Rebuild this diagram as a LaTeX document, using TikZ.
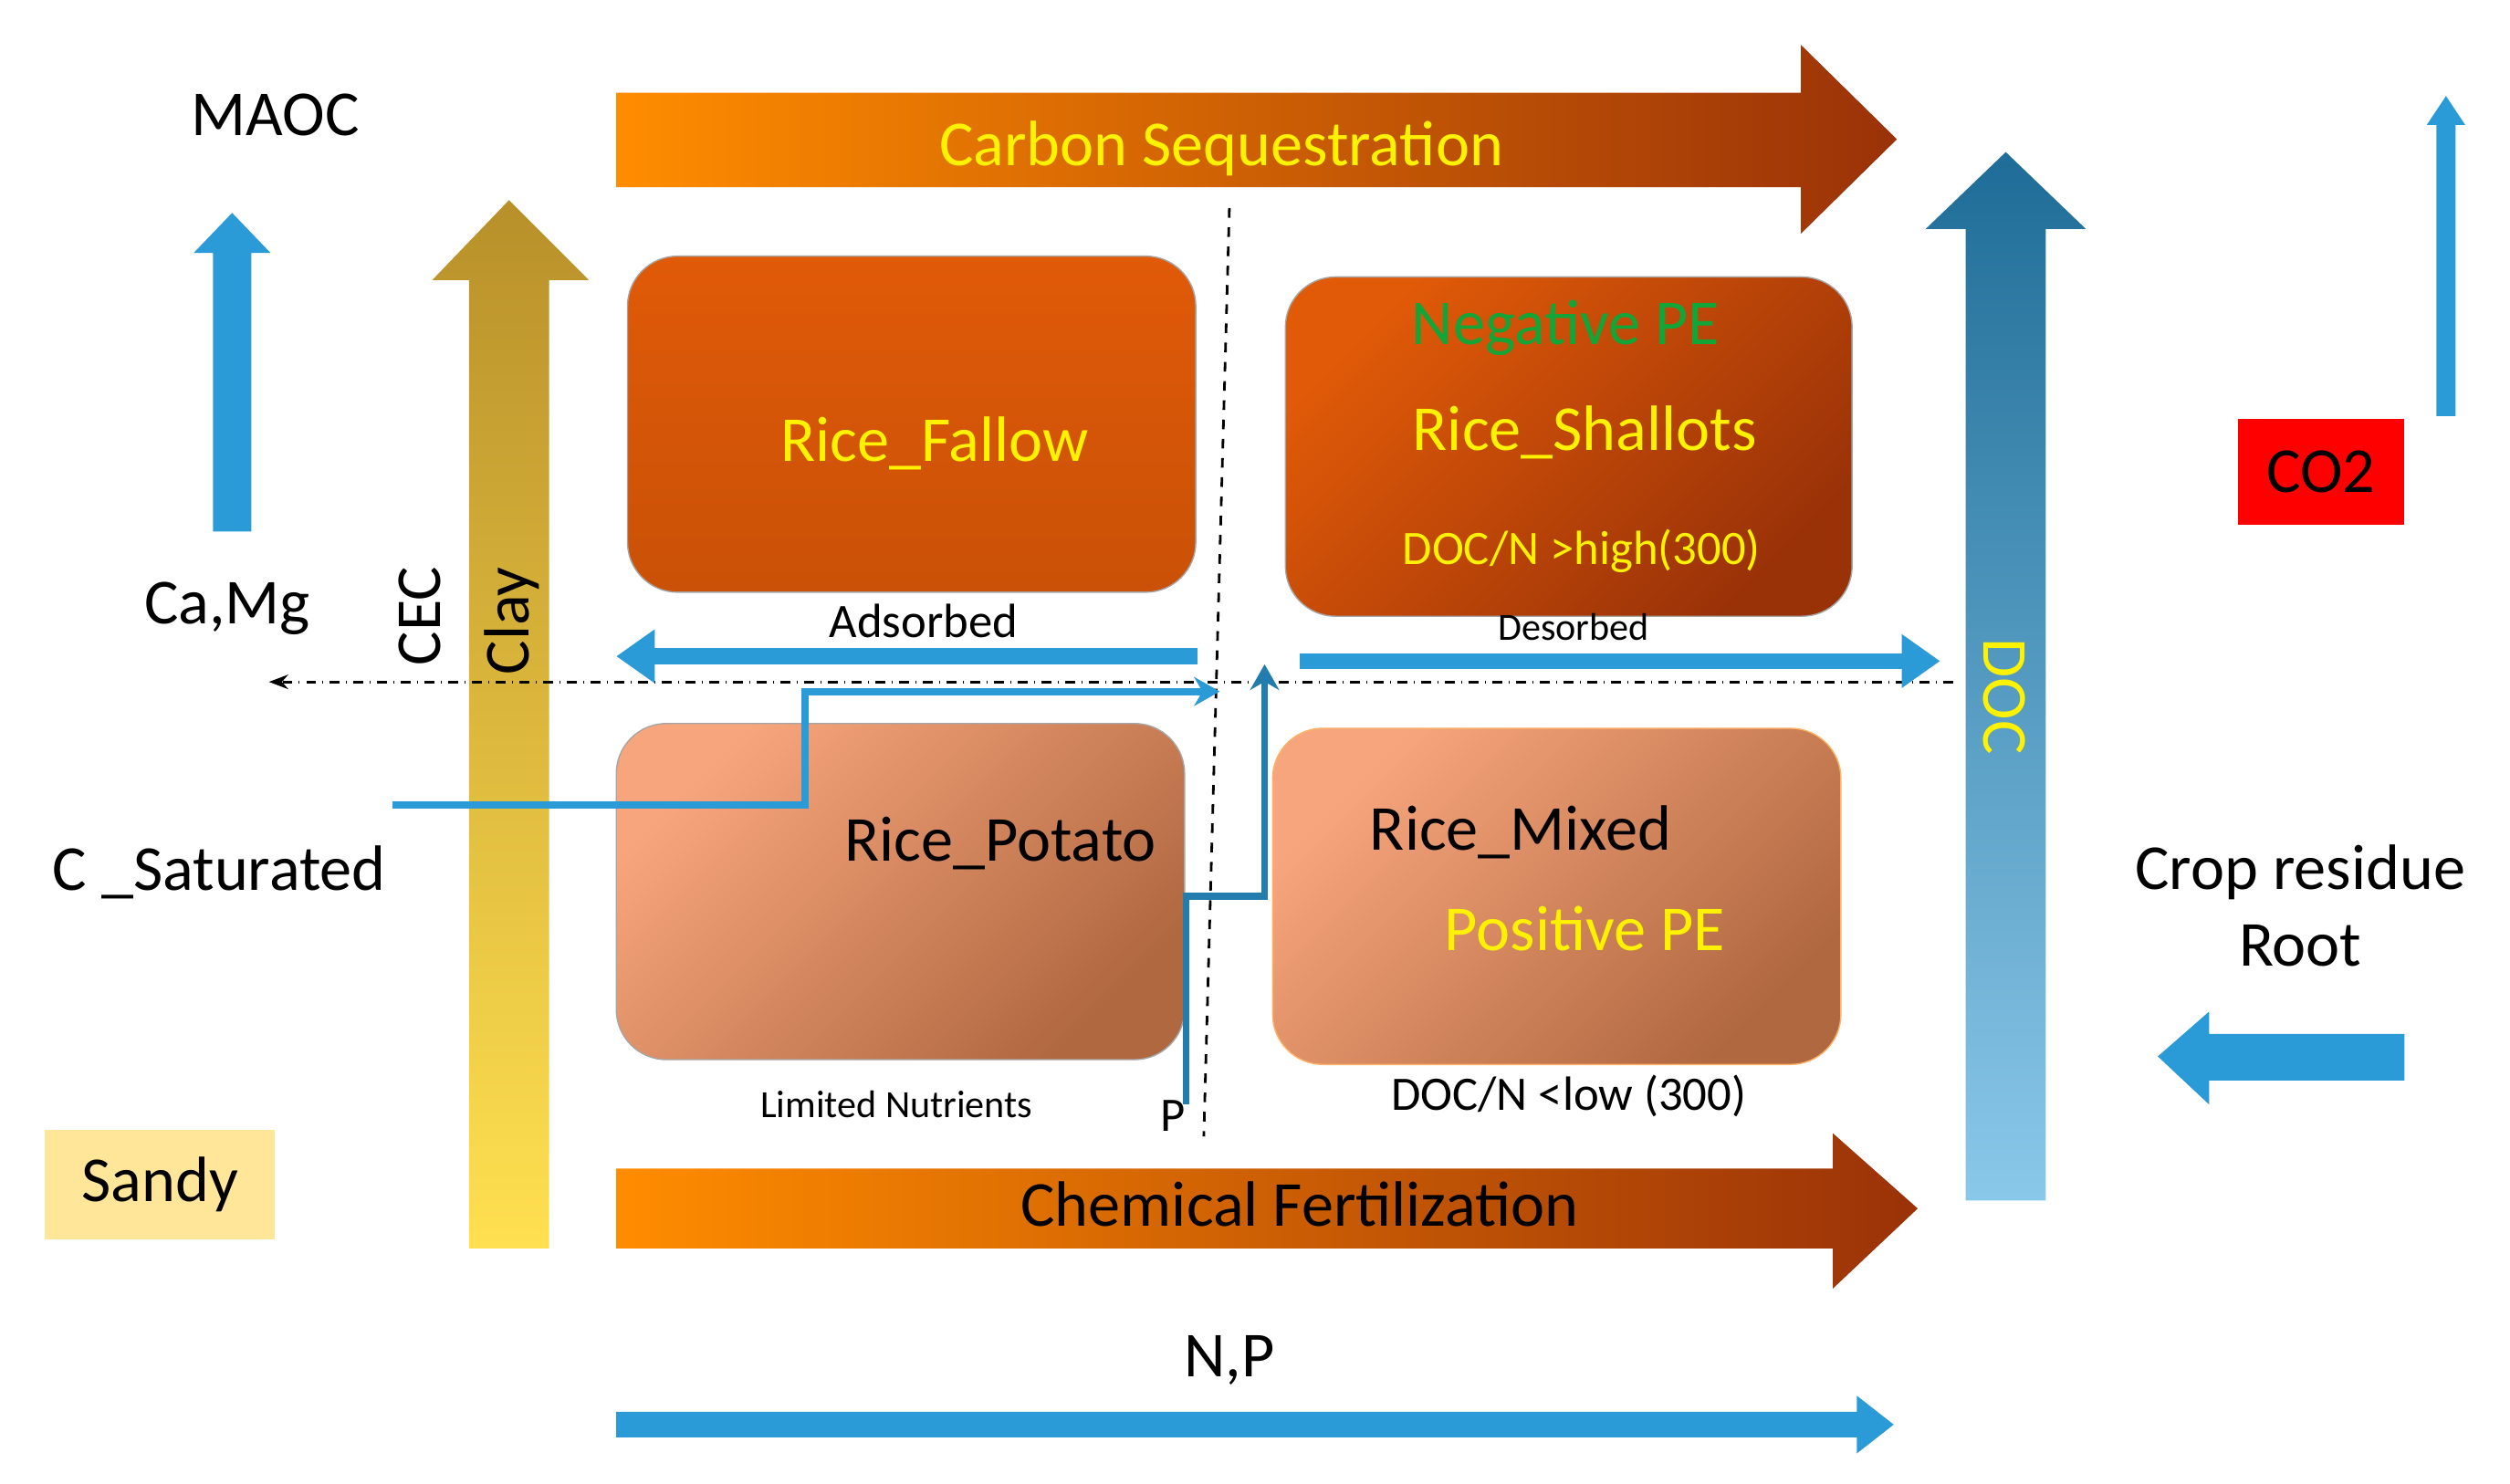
\documentclass[tikz,border=0pt]{standalone}
\usepackage{fontspec}
\setmainfont{Carlito}
\usepackage{xcolor}
\usetikzlibrary{calc,positioning,arrows.meta}
\definecolor{skyblue}{HTML}{2B9BD8}
\definecolor{boxorange}{HTML}{E05A08}
\definecolor{darkrust}{HTML}{9A3208}
\definecolor{salmon}{HTML}{F7A57C}
\definecolor{brownish}{HTML}{B06840}
\definecolor{goldtop}{HTML}{B8902A}
\definecolor{goldbot}{HTML}{FFE050}
\definecolor{textyellow}{HTML}{FFF200}
\definecolor{textgreen}{HTML}{13A538}
\definecolor{sandy}{HTML}{FFE699}
\tikzset{
  big/.style={font=\fontsize{20}{24}\selectfont},
  mid/.style={font=\fontsize{15}{18}\selectfont},
  small/.style={font=\fontsize{12}{14}\selectfont},
  field/.style={rounded corners=0.55cm, draw=gray!70, line width=0.4pt},
  blueline/.style={draw=skyblue, line width=2.2pt, -{Stealth[length=8pt,width=9pt]}},
}
\begin{document}
\begin{tikzpicture}[x=0.01754cm, y=-0.01754cm]
  \useasboundingbox (0,0) rectangle (1568,927);
  % big horizontal arrows
  \shade[left color=orange!90!yellow, right color=darkrust]
    (385,58) -- (1125,58) -- (1125,28) -- (1185,87) -- (1125,146) -- (1125,117) -- (385,117) -- cycle;
  \shade[left color=orange!90!yellow, right color=darkrust]
    (385,730) -- (1145,730) -- (1145,708) -- (1198,755) -- (1145,805) -- (1145,780) -- (385,780) -- cycle;
  \fill[skyblue] (385,882) -- (1160,882) -- (1160,872) -- (1183,890) -- (1160,908) -- (1160,898) -- (385,898) -- cycle;
  % vertical arrows
  \shade[top color=goldtop, bottom color=goldbot]
    (293,780) -- (293,175) -- (270,175) -- (318,125) -- (368,175) -- (343,175) -- (343,780) -- cycle;
  \shade[top color=skyblue!70!black, bottom color=skyblue!55!white]
    (1228,750) -- (1228,143) -- (1203,143) -- (1253,95) -- (1303,143) -- (1278,143) -- (1278,750) -- cycle;
  \fill[skyblue] (133,332) -- (133,158) -- (121,158) -- (145,133) -- (169,158) -- (157,158) -- (157,332) -- cycle;
  \fill[skyblue] (1522,260) -- (1522,78) -- (1516,78) -- (1528,60) -- (1540,78) -- (1534,78) -- (1534,260) -- cycle;
  \fill[skyblue] (1502,646) -- (1380,646) -- (1380,632) -- (1348,660) -- (1380,690) -- (1380,675) -- (1502,675) -- cycle;
  % fields
  \shade[field, top color=boxorange, bottom color=boxorange!90!black] (392,160) rectangle (747,370);
  \shade[field, left color=boxorange, right color=darkrust, shading angle=45] (803,173) rectangle (1157,385);
  \shade[field, left color=salmon, right color=brownish, shading angle=45] (385,452) rectangle (740,662);
  \shade[field, draw=orange!60, left color=salmon, right color=brownish, shading angle=45] (795,455) rectangle (1150,665);
  % quadrant lines
  \draw[dashed, line width=0.8pt] (768,130) -- (752,710);
  \draw[dash dot, line width=0.8pt, -{Stealth[length=6pt]}] (1220,426) -- (168,426);
  % labels
  \node[big] (maoc) at (172,72) {MAOC};
  \node[big] (camg) at (142,380) {Ca,Mg};
  \node[big, rotate=90] (cec) at (262,385) {CEC};
  \node[big, rotate=90] (clay) at (320,388) {Clay};
  \node[big] (csat) at (137,545) {C \_Saturated};
  \node[big, fill=sandy, minimum width=2.52cm, minimum height=1.2cm] (sandy) at (100,740) {Sandy};
  \node[big, textyellow] (carbon) at (763,93) {Carbon Sequestration};
  \node[big] (chem) at (812,752) {Chemical Fertilization};
  \node[big] (np) at (768,850) {N,P};
  \node[big, textyellow] (fallow) at (584,277) {Rice\_Fallow};
  \node[big, textgreen] (negpe) at (978,205) {Negative PE};
  \node[big, textyellow] (shallots) at (990,270) {Rice\_Shallots};
  \node[mid, textyellow] (highdoc) at (988,344) {DOC/N >high(300)};
  \node[mid] (adsorbed) at (577,388) {Adsorbed};
  \node[small] (desorbed) at (983,392) {Desorbed};
  \node[big] (potato) at (625,527) {Rice\_Potato};
  \node[small] (limited) at (560,690) {Limited Nutrients};
  \node[mid] (pnode) at (733,697) {P};
  \node[big] (mixed) at (950,520) {Rice\_Mixed};
  \node[big, textyellow] (pospe) at (990,580) {Positive PE};
  \node[mid] (lowdoc) at (980,685) {DOC/N <low (300)};
  \node[big, textyellow, rotate=-90] (doc) at (1252,435) {DOC};
  \node[big, fill=red, minimum width=1.82cm, minimum height=1.16cm] (co2) at (1450,295) {CO2};
  \node[big, align=center] (crop) at (1437,566) {Crop residue\\Root};
  % flows
  \coordinate (adsA) at (748,410);
  \coordinate (adsB) at (385,410);
  \coordinate (desA) at (812,413);
  \coordinate (desB) at (1212,413);
  \draw[skyblue, line width=5pt, -{Triangle[length=12pt,width=16pt]}] (adsA) -- (adsB);
  \draw[skyblue, line width=5pt, -{Triangle[length=12pt,width=16pt]}] (desA) -- (desB);
  \coordinate (sat) at (245,503);
  \coordinate (satEnd) at (762,432);
  \draw[blueline] (sat) -- (503,503) -- (503,432) -- (satEnd);
  \coordinate (pStart) at (741,690);
  \coordinate (pEnd) at (790,415);
  \draw[blueline, draw=skyblue!80!black] (pStart) -- (741,560) -- (790,560) -- (pEnd);
\end{tikzpicture}
\end{document}
